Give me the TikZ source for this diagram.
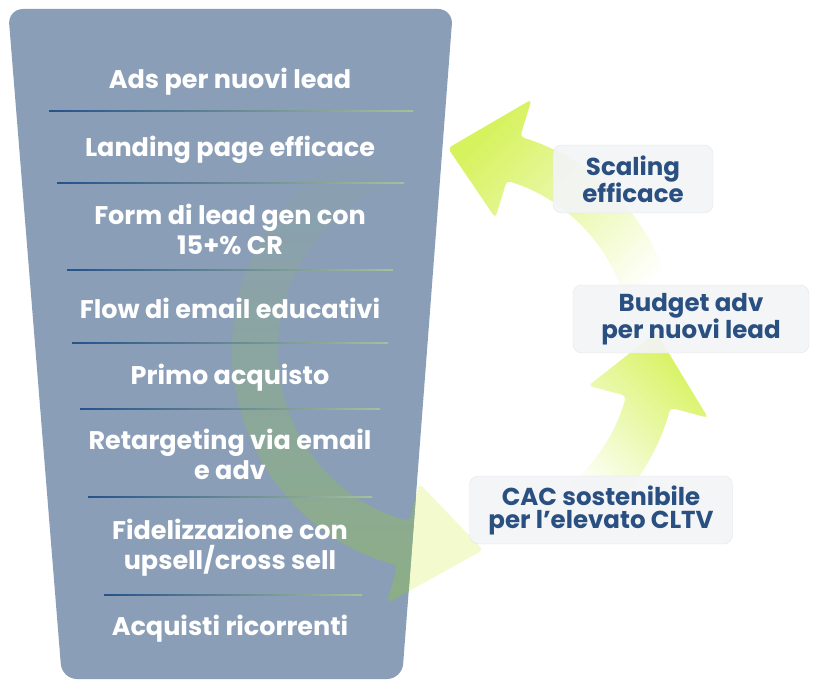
\documentclass[tikz,border=0pt]{standalone}
\usepackage{fontspec}
\setmainfont{Poppins}
\usetikzlibrary{positioning}
\definecolor{funnelfill}{RGB}{138,158,183}
\definecolor{sepblue}{RGB}{38,82,140}
\definecolor{sepgreen}{RGB}{128,165,112}
\definecolor{tagblue}{RGB}{42,80,130}
\definecolor{tagfill}{RGB}{243,244,246}
\definecolor{tagedge}{RGB}{226,228,232}
\definecolor{lime}{RGB}{214,242,92}
\definecolor{loopgreen}{RGB}{140,174,134}
% loop arrow around the centre: #1 style, #2 tail angle, #3 head base angle, #4 tip angle
\newcommand{\looparrow}[4]{%
  \path[#1] (#2:223) arc[start angle=#2, end angle=#3, radius=223]
    -- (#3:262) -- (#4:202) -- (#3:138) -- (#3:177)
    arc[start angle=#3, end angle=#2, radius=177] -- cycle;}
\newcommand{\funnelpath}{(8,9) -- (453,9) -- (402,679) -- (62,679) -- cycle}

\begin{document}
\begin{tikzpicture}[
  x=1pt, y=-1pt,
  stepname/.style={text=white, align=center, font=\fontsize{25.5}{30}\selectfont\bfseries},
  tag/.style={draw=tagedge, fill=tagfill, fill opacity=.92, text opacity=1, rounded corners=9pt,
    align=center, text=tagblue, minimum height=68, font=\fontsize{24.5}{23}\selectfont\bfseries},
  sep/.style={left color=sepblue, right color=sepgreen!70!white}
]
\useasboundingbox (0,0) rectangle (816,687);

% loop arrows
\begin{scope}[shift={(455,350)}]
  \looparrow{rounded corners=4pt, fill=lime!30}{-112}{-255}{-278}
  \looparrow{rounded corners=4pt, top color=lime, bottom color=white, shading angle=-45}{50}{15}{-5}
  \looparrow{rounded corners=4pt, top color=lime, bottom color=white, shading angle=45}{-8}{-73}{-92}
\end{scope}

% funnel
\fill[funnelfill, rounded corners=15pt] \funnelpath;
\begin{scope}
  \clip[rounded corners=15pt] \funnelpath;
  \begin{scope}[shift={(455,350)}]
    \looparrow{rounded corners=4pt, top color=funnelfill, middle color=loopgreen, bottom color=loopgreen}{-112}{-255}{-278}
  \end{scope}
\end{scope}

\foreach \y/\xa/\xb in {111/49/413, 183/57/404, 270/67/393, 343/72/388, 409/80/380, 497/88/372, 595/104/362}
  \shade[sep] (\xa,\y-0.8) rectangle (\xb,\y+0.8);

\node[stepname] (ads) at (230,82) {Ads per nuovi lead};
\node[stepname] (landing) at (230,150) {Landing page efficace};
\node[stepname] (form) at (230,229) {Form di lead gen con\\15+\% CR};
\node[stepname] (flow) at (230,308) {Flow di email educativi};
\node[stepname] (primo) at (230,378) {Primo acquisto};
\node[stepname] (retarget) at (230,454) {Retargeting via email\\e adv};
\node[stepname] (fidel) at (230,548) {Fidelizzazione con\\upsell/cross sell};
\node[stepname] (ricorr) at (230,629) {Acquisti ricorrenti};

% labels on the loop
\node[tag, minimum width=160] (scaling) at (633,179) {Scaling\\efficace};
\node[tag, minimum width=236] (budget) at (691,319) {Budget adv\\per nuovi lead};
\node[tag, minimum width=263] (cac) at (601,510) {CAC sostenibile\\per l’elevato CLTV};
\end{tikzpicture}
\end{document}
